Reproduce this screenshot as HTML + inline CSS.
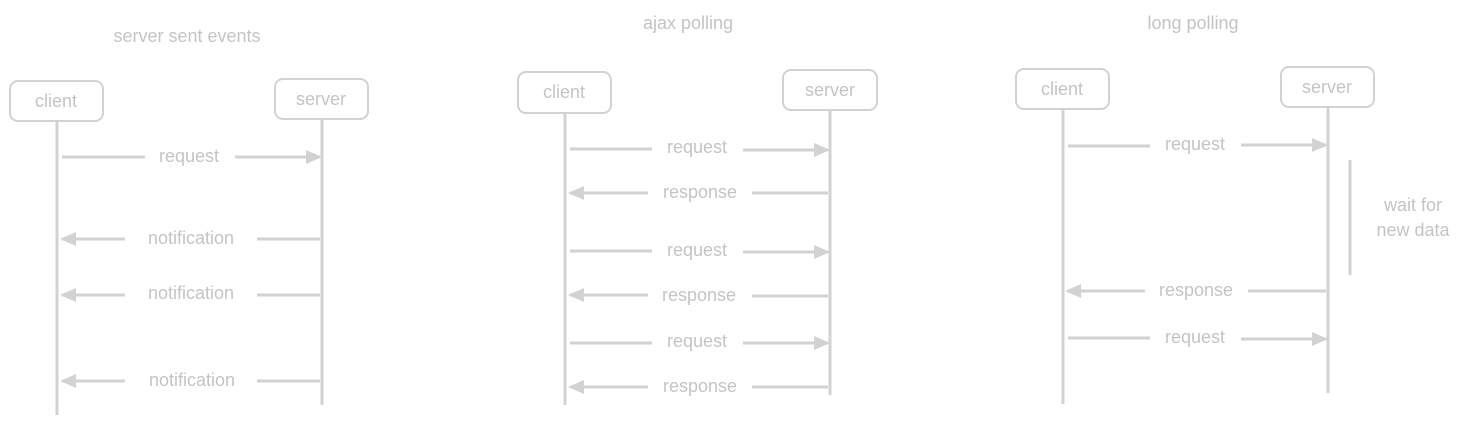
<!DOCTYPE html>
<html><head><meta charset="utf-8"><style>
html,body{margin:0;padding:0;background:#fff;width:1467px;height:425px;overflow:hidden}
text{font-family:"Liberation Sans",sans-serif;font-size:18px;fill:#c4c4c4;text-anchor:middle;dominant-baseline:middle}
.l{stroke:#d2d2d2;stroke-width:3;fill:none}
.b{stroke:#d2d2d2;stroke-width:2;fill:#fff}
.h{fill:#d2d2d2}
</style></head><body>
<svg width="1467" height="425" xmlns="http://www.w3.org/2000/svg">
<defs><marker id="a" markerWidth="16" markerHeight="14" refX="14" refY="7" orient="auto" markerUnits="userSpaceOnUse"><path d="M0,0 L16,7 L0,14 Z" class="h"/></marker></defs>
<!-- panel 1 -->
<text x="187" y="37">server sent events</text>
<line class="l" x1="57" y1="121" x2="57" y2="415"/>
<line class="l" x1="322" y1="119" x2="322" y2="405"/>
<rect class="b" x="10" y="81" width="93" height="40" rx="8"/><text x="56" y="102">client</text>
<rect class="b" x="275" y="79" width="93" height="40" rx="8"/><text x="321" y="100">server</text>
<line class="l" x1="62" y1="157" x2="145" y2="157"/><line class="l" x1="235" y1="157" x2="320" y2="157" marker-end="url(#a)"/><text x="189" y="157">request</text>
<line class="l" x1="320" y1="239" x2="257" y2="239"/><line class="l" x1="125" y1="239" x2="62" y2="239" marker-end="url(#a)"/><text x="191" y="239">notification</text>
<line class="l" x1="320" y1="295" x2="257" y2="295"/><line class="l" x1="125" y1="295" x2="62" y2="295" marker-end="url(#a)"/><text x="191" y="294">notification</text>
<line class="l" x1="320" y1="381" x2="257" y2="381"/><line class="l" x1="125" y1="381" x2="62" y2="381" marker-end="url(#a)"/><text x="192" y="381">notification</text>
<!-- panel 2 -->
<text x="688" y="24">ajax polling</text>
<line class="l" x1="565" y1="113" x2="565" y2="405"/>
<line class="l" x1="830" y1="110" x2="830" y2="395"/>
<rect class="b" x="518" y="72" width="93" height="41" rx="8"/><text x="564" y="93">client</text>
<rect class="b" x="783" y="70" width="94" height="40" rx="8"/><text x="830" y="91">server</text>
<line class="l" x1="570" y1="149" x2="652" y2="149"/><line class="l" x1="743" y1="150" x2="828" y2="150" marker-end="url(#a)"/><text x="697" y="148">request</text>
<line class="l" x1="828" y1="193" x2="752" y2="193"/><line class="l" x1="648" y1="193" x2="570" y2="193" marker-end="url(#a)"/><text x="700" y="193">response</text>
<line class="l" x1="570" y1="251" x2="652" y2="251"/><line class="l" x1="743" y1="252" x2="828" y2="252" marker-end="url(#a)"/><text x="697" y="251">request</text>
<line class="l" x1="828" y1="296" x2="752" y2="296"/><line class="l" x1="648" y1="295" x2="570" y2="295" marker-end="url(#a)"/><text x="699" y="296">response</text>
<line class="l" x1="570" y1="343" x2="652" y2="343"/><line class="l" x1="743" y1="343" x2="828" y2="343" marker-end="url(#a)"/><text x="697" y="342">request</text>
<line class="l" x1="828" y1="387" x2="752" y2="387"/><line class="l" x1="648" y1="387" x2="570" y2="387" marker-end="url(#a)"/><text x="700" y="387">response</text>
<!-- panel 3 -->
<text x="1193" y="24">long polling</text>
<line class="l" x1="1063" y1="109" x2="1063" y2="404"/>
<line class="l" x1="1328" y1="107" x2="1328" y2="393"/>
<rect class="b" x="1016" y="69" width="93" height="40" rx="8"/><text x="1062" y="90">client</text>
<rect class="b" x="1281" y="67" width="93" height="40" rx="8"/><text x="1327" y="88">server</text>
<line class="l" x1="1068" y1="146" x2="1150" y2="146"/><line class="l" x1="1241" y1="145" x2="1326" y2="145" marker-end="url(#a)"/><text x="1195" y="145">request</text>
<line class="l" x1="1350" y1="160" x2="1350" y2="275"/>
<text x="1413" y="206">wait for</text><text x="1413" y="231">new data</text>
<line class="l" x1="1326" y1="291" x2="1248" y2="291"/><line class="l" x1="1145" y1="291" x2="1067" y2="291" marker-end="url(#a)"/><text x="1196" y="291">response</text>
<line class="l" x1="1068" y1="338" x2="1150" y2="338"/><line class="l" x1="1241" y1="339" x2="1326" y2="339" marker-end="url(#a)"/><text x="1195" y="338">request</text>
</svg>
</body></html>
